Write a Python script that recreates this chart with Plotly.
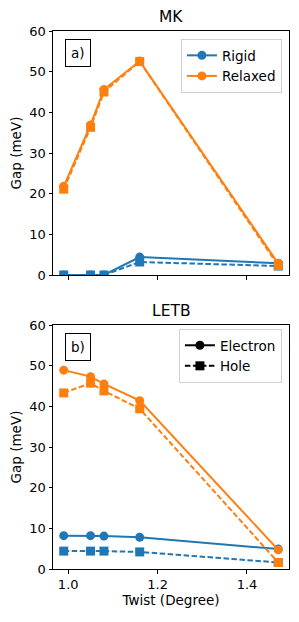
import plotly.graph_objects as go
from plotly.subplots import make_subplots

twist = [0.99, 1.05, 1.08, 1.16, 1.47]

# MK panel
mk_rigid_elec = [0.0, 0.0, 0.0, 4.4, 2.9]
mk_rigid_hole = [0.0, 0.0, 0.0, 3.2, 2.2]
mk_relax_elec = [21.8, 36.9, 45.6, 52.6, 2.8]
mk_relax_hole = [21.1, 36.3, 45.0, 52.5, 2.3]

# LETB panel
letb_rigid_elec = [8.2, 8.2, 8.1, 7.8, 4.9]
letb_rigid_hole = [4.4, 4.4, 4.4, 4.2, 1.6]
letb_relax_elec = [48.9, 47.3, 45.5, 41.4, 4.7]
letb_relax_hole = [43.3, 45.7, 43.8, 39.4, 1.6]

BLUE = "#1f77b4"
ORANGE = "#ff7f0e"
FONT = "DejaVu Sans"
DASH = "5.5px,2.5px"
LW = 2

fig = make_subplots(rows=2, cols=1, shared_xaxes=False, vertical_spacing=0.0)

def add_series(row, y, color, dash, symbol):
    fig.add_trace(go.Scatter(
        x=twist, y=y, mode="lines+markers",
        line=dict(color=color, width=LW, dash=dash),
        marker=dict(color=color, size=9, symbol=symbol, line=dict(width=0)),
        showlegend=False, hoverinfo="skip"), row=row, col=1)

add_series(1, mk_rigid_elec, BLUE, "solid", "circle")
add_series(1, mk_rigid_hole, BLUE, DASH, "square")
add_series(1, mk_relax_elec, ORANGE, "solid", "circle")
add_series(1, mk_relax_hole, ORANGE, DASH, "square")

add_series(2, letb_rigid_elec, BLUE, "solid", "circle")
add_series(2, letb_rigid_hole, BLUE, DASH, "square")
add_series(2, letb_relax_elec, ORANGE, "solid", "circle")
add_series(2, letb_relax_hole, ORANGE, DASH, "square")

# legend entries
for name, color in [("Rigid", BLUE), ("Relaxed", ORANGE)]:
    fig.add_trace(go.Scatter(x=[None], y=[None], mode="lines+markers", name=name,
                             line=dict(color=color, width=LW),
                             marker=dict(color=color, size=9, symbol="circle"),
                             legend="legend", showlegend=True), row=1, col=1)
for name, dash, symbol in [("Electron", "solid", "circle"), ("Hole", DASH, "square")]:
    fig.add_trace(go.Scatter(x=[None], y=[None], mode="lines+markers", name=name,
                             line=dict(color="black", width=LW, dash=dash),
                             marker=dict(color="black", size=9, symbol=symbol),
                             legend="legend2", showlegend=True), row=2, col=1)

# page has an 8px body margin; compensate so the figure sits where the reference does
W, H = 291, 614
top, bot = 23, 53
ph = H - top - bot

axis_common = dict(showgrid=False, zeroline=False, showline=True, linecolor="black",
                   linewidth=1, mirror=True, ticks="outside", ticklen=3.5, tickwidth=1,
                   tickcolor="black", automargin=False,
                   tickfont=dict(family=FONT, size=13, color="black"))

fig.update_xaxes(range=[0.966, 1.494], tickvals=[1.0, 1.2, 1.4], **axis_common)
fig.update_xaxes(showticklabels=False, row=1, col=1)
fig.update_xaxes(tickformat=".1f",
                 title=dict(text="Twist (Degree)", font=dict(family=FONT, size=13.5, color="black"), standoff=4),
                 row=2, col=1)
fig.update_yaxes(range=[0, 60], tickvals=[0, 10, 20, 30, 40, 50, 60],
                 title=dict(text="Gap (meV)", font=dict(family=FONT, size=13.5, color="black"), standoff=8),
                 **axis_common)

legend_common = dict(xanchor="right", yanchor="top", bgcolor="rgba(255,255,255,0.8)",
                     bordercolor="#d0d0d0", borderwidth=1,
                     font=dict(family=FONT, size=13.5, color="black"),
                     tracegroupgap=0, itemwidth=30)

fig.update_layout(
    width=W, height=H,
    margin=dict(l=45, r=10, t=top, b=bot),
    paper_bgcolor="white", plot_bgcolor="white",
    font=dict(family=FONT, color="black"),
    yaxis=dict(domain=[(561 - 267) / ph, 1.0]),
    yaxis2=dict(domain=[0.0, (561 - 317) / ph]),
    legend=dict(x=0.97, y=0.985, **legend_common),
    legend2=dict(x=0.97, y=(561 - 321) / ph, **legend_common),
    showlegend=True,
)

annotations = [
    dict(text="MK", x=0.5, xref="x domain", y=1.0, yref="y domain", yanchor="bottom", yshift=3,
         showarrow=False, font=dict(family=FONT, size=15.5, color="black")),
    dict(text="LETB", x=0.5, xref="x2 domain", y=1.0, yref="y2 domain", yanchor="bottom", yshift=3,
         showarrow=False, font=dict(family=FONT, size=15.5, color="black")),
    dict(text="a)", x=0.051, xref="x domain", y=0.967, yref="y domain", xanchor="left", yanchor="top",
         showarrow=False, bordercolor="black", borderwidth=1, borderpad=5, bgcolor="white",
         font=dict(family=FONT, size=13.5, color="black")),
    dict(text="b)", x=0.051, xref="x2 domain", y=0.967, yref="y2 domain", xanchor="left", yanchor="top",
         showarrow=False, bordercolor="black", borderwidth=1, borderpad=5, bgcolor="white",
         font=dict(family=FONT, size=13.5, color="black")),
]
fig.update_layout(annotations=annotations)

fig.write_html("out.html")
